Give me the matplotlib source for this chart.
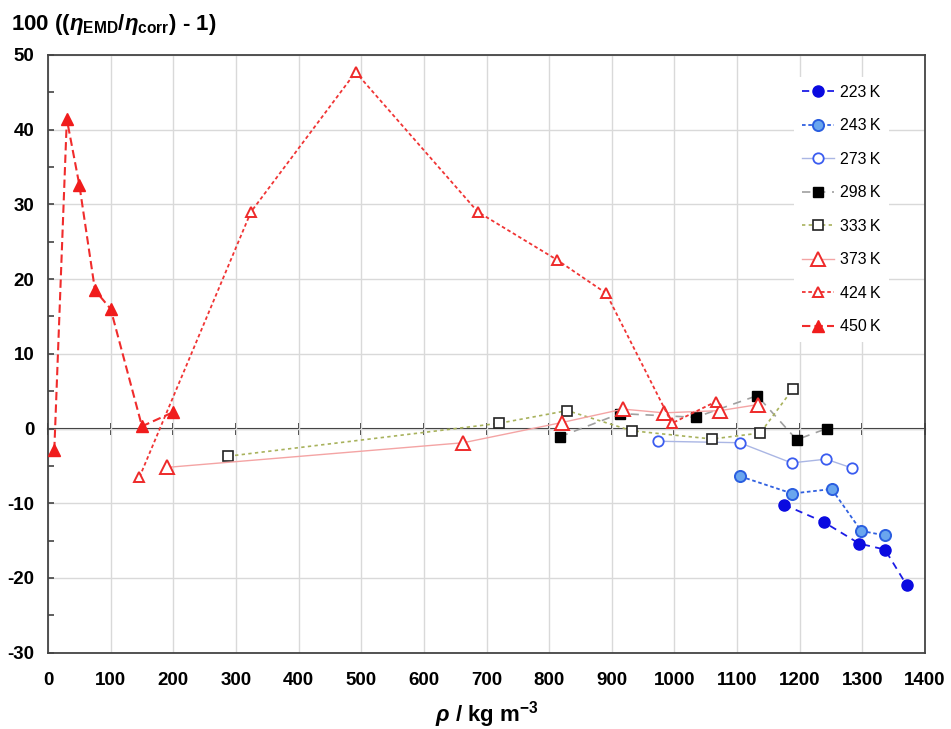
import matplotlib
matplotlib.use("Agg")
import matplotlib.pyplot as plt
from matplotlib.ticker import MultipleLocator

plt.rcParams["font.family"] = ["Liberation Sans", "DejaVu Sans"]
plt.rcParams["mathtext.fontset"] = "custom"
plt.rcParams["mathtext.rm"] = "Liberation Sans:bold"
plt.rcParams["mathtext.it"] = "Liberation Sans:italic:bold"
plt.rcParams["mathtext.bf"] = "Liberation Sans:bold"
plt.rcParams["axes.unicode_minus"] = False

# data: density (kg m-3) and deviation (%)
rho_223 = [1175, 1238, 1295, 1336, 1371]
dev_223 = [-10.2, -12.5, -15.4, -16.2, -21.0]
rho_243 = [1105, 1188, 1251, 1298, 1336]
dev_243 = [-6.4, -8.7, -8.1, -13.7, -14.3]
rho_273 = [973, 1104, 1187, 1242, 1284]
dev_273 = [-1.7, -1.9, -4.6, -4.1, -5.3]
rho_298 = [817, 913, 1034, 1132, 1195, 1243]
dev_298 = [-1.1, 2.0, 1.5, 4.4, -1.5, 0.0]
rho_333 = [288, 720, 829, 932, 1060, 1137, 1189]
dev_333 = [-3.7, 0.7, 2.4, -0.3, -1.4, -0.6, 5.3]
rho_373 = [190, 663, 820, 918, 983, 1073, 1133]
dev_373 = [-5.2, -1.9, 0.8, 2.6, 2.1, 2.4, 3.2]
rho_424 = [146, 324, 491, 686, 812, 891, 996, 1066]
dev_424 = [-6.5, 29.0, 47.7, 29.0, 22.6, 18.1, 0.7, 3.6]
rho_450 = [10, 30, 50, 75, 100, 150, 200]
dev_450 = [-2.9, 41.4, 32.6, 18.5, 16.0, 0.3, 2.2]

x_ticks = list(range(0, 1401, 100))
y_ticks = list(range(-30, 51, 10))

series = [
    (rho_223, dev_223, "223\u2009K", dict(color="#1c1ce6", ls=(0, (4, 3)), lw=1.3,
                                           marker="o", ms=8, mfc="#0a0ae0", mec="#0a0ae0")),
    (rho_243, dev_243, "243\u2009K", dict(color="#3060e0", ls=(0, (2, 1.5)), lw=1.3,
                                           marker="o", ms=8, mfc="#6aa6ee", mec="#2a5ee0", mew=1.4)),
    (rho_273, dev_273, "273\u2009K", dict(color="#aab6e4", ls="-", lw=1.0,
                                           marker="o", ms=7.5, mfc="white", mec="#3a5cf0", mew=1.3)),
    (rho_298, dev_298, "298\u2009K", dict(color="#a0a0a0", ls=(0, (5, 4)), lw=1.2,
                                           marker="s", ms=6.5, mfc="black", mec="black")),
    (rho_333, dev_333, "333\u2009K", dict(color="#a8b25c", ls=(0, (2, 2)), lw=1.2,
                                           marker="s", ms=7, mfc="white", mec="#222222", mew=1.2)),
    (rho_373, dev_373, "373\u2009K", dict(color="#f4a4a4", ls="-", lw=1.0,
                                           marker="^", ms=9.5, mfc="white", mec="#ee2a2a", mew=1.4)),
    (rho_424, dev_424, "424\u2009K", dict(color="#f03434", ls=(0, (2, 1.5)), lw=1.3,
                                           marker="^", ms=6.5, mfc="white", mec="#ee2a2a", mew=1.4)),
    (rho_450, dev_450, "450\u2009K", dict(color="#f02c2c", ls=(0, (4, 2)), lw=1.5,
                                           marker="^", ms=8, mfc="#f01c1c", mec="#f01c1c")),
]

fig = plt.figure(figsize=(9.51, 7.29), dpi=100)
ax = fig.add_axes([0.0505, 0.1047, 0.9222, 0.8199])

for xs, ys, label, style in series:
    ax.plot(xs, ys, label=label, zorder=3, **style)

ax.set_xlim(0, 1400)
ax.set_ylim(-30, 50)
ax.set_xticks(x_ticks)
ax.set_yticks(y_ticks)
ax.yaxis.set_minor_locator(MultipleLocator(5))
ax.grid(True, color="#d9d9d9", lw=1.0, zorder=0)
ax.set_axisbelow(True)

for sp in ax.spines.values():
    sp.set_color("#444444")
    sp.set_linewidth(1.3)

ax.tick_params(axis="x", length=0, pad=14, labelsize=13.5)
ax.tick_params(axis="y", which="both", direction="in", length=4, width=1.2,
               color="#444444", pad=10, labelsize=13.5)
for lab in ax.get_xticklabels() + ax.get_yticklabels():
    lab.set_fontweight("bold")

# zero line carrying the x ticks
zero = ax.secondary_xaxis(30 / 80)
zero.set_xticks(x_ticks)
zero.tick_params(direction="inout", length=8, width=1.3, labelbottom=False,
                 labeltop=False, color="#222222")
for side in ("top", "bottom"):
    zero.spines[side].set_color("#222222")
    zero.spines[side].set_linewidth(1.5)

ax.set_xlabel(r"$\rho$ / kg m$^{-3}$", fontsize=16, fontweight="bold", va="center")
ax.xaxis.set_label_coords(0.5, -0.103)
fig.text(0.012, 0.967, r"100 (($\eta_{\mathrm{EMD}}$/$\eta_{\mathrm{corr}}$) - 1)",
         fontsize=16, fontweight="bold", va="center", ha="left")

leg = ax.legend(loc="upper left", bbox_to_anchor=(0.842, 0.977), frameon=True,
                fontsize=11.5, labelspacing=1.16, handlelength=1.95, handletextpad=0.4,
                borderpad=0.5)
leg.get_frame().set_edgecolor("none")
leg.get_frame().set_facecolor("white")
leg.get_frame().set_alpha(1.0)

fig.savefig("out.png", dpi=100)
